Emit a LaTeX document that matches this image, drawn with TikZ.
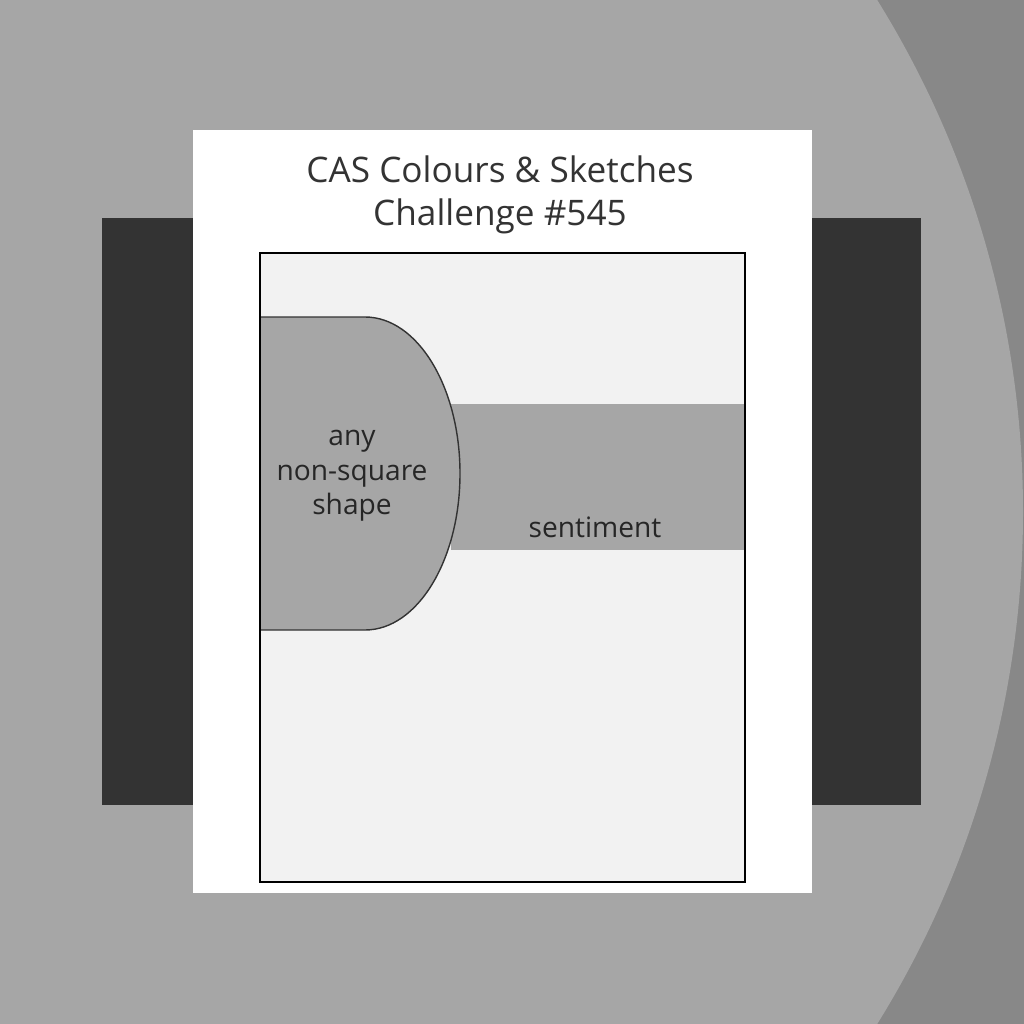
\documentclass[tikz,border=0pt]{standalone}
\usepackage{fontspec}
\setmainfont{Open Sans}
\definecolor{bgdark}{HTML}{888888}
\definecolor{bglight}{HTML}{A6A6A6}
\definecolor{matdark}{HTML}{333333}
\definecolor{panelfill}{HTML}{F2F2F2}
\definecolor{shapefill}{HTML}{A6A6A6}

\begin{document}
\begin{tikzpicture}[x=0.01cm, y=-0.01cm,
		title text/.style={font=\fontsize{10}{12.2}\selectfont, text=black!80, align=center, inner sep=0pt},
		label text/.style={font=\fontsize{8}{9.8}\selectfont, text=black!85, align=center, inner sep=0pt}]
		\useasboundingbox (0, 0) rectangle (1024, 1024);
		\clip (0, 0) rectangle (1024, 1024);
		
		% backdrop
		\fill[bgdark] (0, 0) rectangle (1024, 1024);
		\fill[bglight] (52, 512) circle (971);
		\fill[matdark] (102, 218) rectangle (921, 805);
		\fill[white] (193, 130) rectangle (812, 893);
		
		% sketch
		\fill[panelfill] (260, 253) rectangle (745, 882);
		\draw[shapefill, fill=shapefill] (452, 405) rectangle (745, 549);
		\draw[black!80, line width=0.4pt, fill=shapefill] (260, 317) -- (365, 317)
		      arc[start angle=-90, end angle=90, x radius=95, y radius=156.5]
		      -- (260, 630) -- cycle;
		\draw[black, line width=0.75pt] (260, 253) rectangle (745, 882);
		
		\path (500, 195)  node[title text] (title)     {CAS Colours \& Sketches\\Challenge \#545}
		      (352, 476)  node[label text] (shape)     {any\\non-square\\shape}
		      (595, 527)  node[label text] (sentiment) {sentiment};
	\end{tikzpicture}
\end{document}
